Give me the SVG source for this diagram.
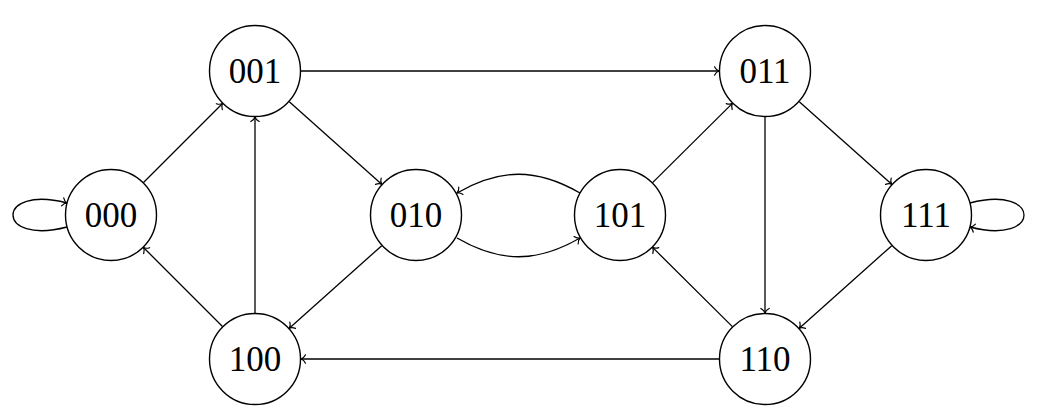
<svg xmlns="http://www.w3.org/2000/svg" width="1038" height="420" viewBox="0 0 1038 420">
<defs>
<marker id="arr" markerUnits="userSpaceOnUse" markerWidth="12" markerHeight="12" viewBox="-6 -6 12 12" refX="0" refY="0" orient="auto" overflow="visible">
<path d="M -4.5,-4.2 C -3.2,-1.6 -1.3,-0.4 0,0 C -1.3,0.4 -3.2,1.6 -4.5,4.2" fill="none" stroke="#000" stroke-width="1.2" stroke-linecap="round"/>
</marker>
<style>
.n circle{fill:#fff;stroke:#000;stroke-width:1.4}
.n text{font-family:"Liberation Serif","DejaVu Serif",serif;font-size:35px;text-anchor:middle;fill:#000}
.e path{fill:none;stroke:#000;stroke-width:1.3;marker-end:url(#arr)}
</style>
</defs>
<rect width="1038" height="420" fill="#fff"/>
<g id="edges" class="e">
<path d="M 143.5,182.5 L 222.5,103.5"/>
<path d="M 222.5,326.5 L 143.5,247.5"/>
<path d="M 255,313 L 255,117"/>
<path d="M 289.3,101.7 L 381.7,184.3"/>
<path d="M 301,71 L 719,71"/>
<path d="M 381.7,245.7 L 289.3,328.3"/>
<path d="M 580,193 C 536.7,168 500.3,168 457,193"/>
<path d="M 457,238 C 500.3,263 536.7,263 580,238"/>
<path d="M 652.6,182.6 L 732.4,103.4"/>
<path d="M 799.3,101.7 L 891.7,184.3"/>
<path d="M 765,117 L 765,313"/>
<path d="M 891.7,245.7 L 799.3,328.3"/>
<path d="M 732.4,326.6 L 652.6,247.4"/>
<path d="M 719,359 L 301,359"/>
<path d="M 67,227 C -5,246 -5,184 67,203"/>
<path d="M 970,203 C 1042,184 1042,246 970,227"/>
</g>
<g id="n000" class="n"><circle cx="111" cy="215" r="45.5"/><text x="111" y="226.5">000</text></g>
<g id="n001" class="n"><circle cx="255" cy="71" r="45.5"/><text x="255" y="82.5">001</text></g>
<g id="n010" class="n"><circle cx="416" cy="215" r="45.5"/><text x="416" y="226.5">010</text></g>
<g id="n101" class="n"><circle cx="620" cy="215" r="45.5"/><text x="620" y="226.5">101</text></g>
<g id="n011" class="n"><circle cx="765" cy="71" r="45.5"/><text x="765" y="82.5">011</text></g>
<g id="n111" class="n"><circle cx="926" cy="215" r="45.5"/><text x="926" y="226.5">111</text></g>
<g id="n100" class="n"><circle cx="255" cy="359" r="45.5"/><text x="255" y="370.5">100</text></g>
<g id="n110" class="n"><circle cx="765" cy="359" r="45.5"/><text x="765" y="370.5">110</text></g>
</svg>
